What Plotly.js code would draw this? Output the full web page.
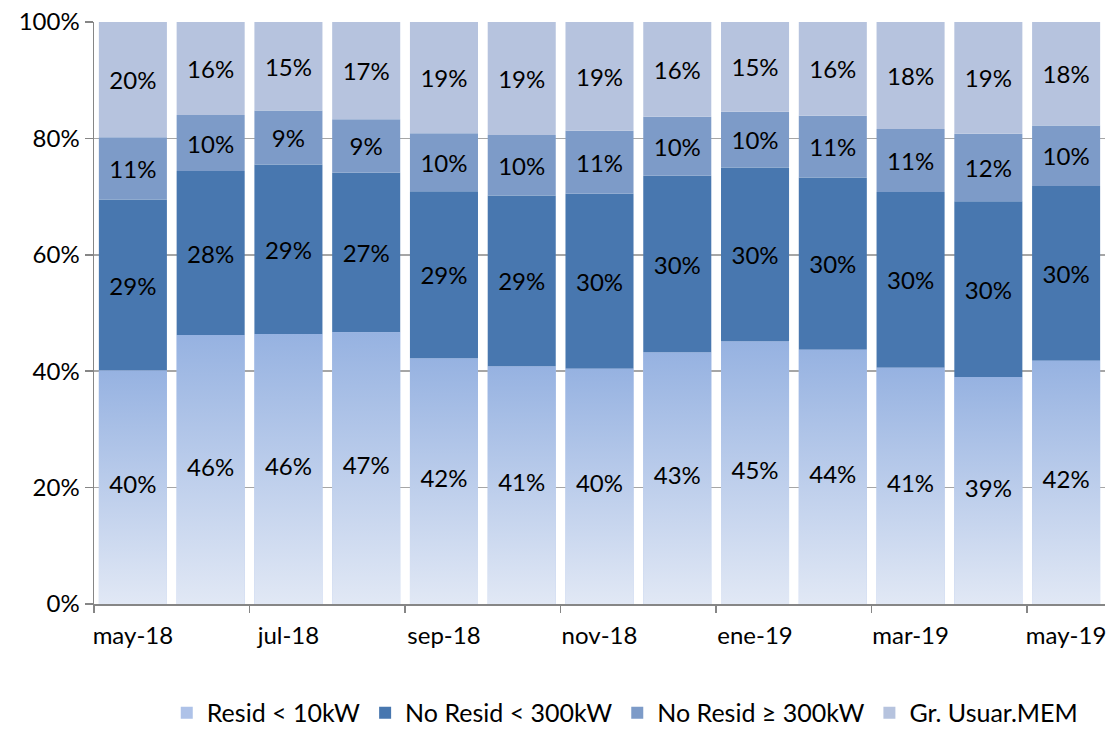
<!DOCTYPE html>
<html>
<head>
<meta charset="utf-8">
<script src="https://cdn.plot.ly/plotly-3.0.1.min.js"></script>
<style>html,body{margin:0;padding:0;background:#fff;}#chart{width:1111px;height:732px;}</style>
</head>
<body>
<div id="chart"></div>
<script>
// Months (categories)
const months = ["may-18","jun-18","jul-18","ago-18","sep-18","oct-18","nov-18","dic-18","ene-19","feb-19","mar-19","abr-19","may-19"];
// Series shares (%)
const residBajo   = [40.1, 46.2, 46.4, 46.7, 42.2, 40.8, 40.4, 43.2, 45.1, 43.7, 40.6, 39.0, 41.8]; // Resid < 10kW
const noResidBajo = [29.4, 28.2, 29.1, 27.4, 28.7, 29.4, 30.1, 30.4, 29.9, 29.6, 30.2, 30.2, 30.0]; // No Resid < 300kW
const noResidAlto = [10.7,  9.6,  9.3,  9.2, 10.0, 10.4, 10.8, 10.1,  9.6, 10.6, 10.8, 11.6, 10.4]; // No Resid >= 300kW
const grUsuarios  = [19.8, 16.0, 15.2, 16.7, 19.1, 19.4, 18.7, 16.3, 15.4, 16.1, 18.4, 19.2, 17.8]; // Gr. Usuar.MEM
const seriesNames = ["Resid < 10kW", "No Resid < 300kW", "No Resid \u2265 300kW", "Gr. Usuar.MEM"];
// Tick labels shown (every other month)
const tickLabels = ["may-18","jul-18","sep-18","nov-18","ene-19","mar-19","may-19"];

const FONT = "Lato, 'Open Sans', sans-serif";
const FS = 24;
const idx = months.map((m, i) => i);
const halfW = 0.4375;
const pct = a => a.map(v => Math.round(v) + "%");

const base1 = residBajo.slice();
const base2 = residBajo.map((v, i) => v + noResidBajo[i]);
const base3 = residBajo.map((v, i) => v + noResidBajo[i] + noResidAlto[i]);
const barSpecs = [
  {vals: residBajo,   base: null,  color: "#aec2e8", name: seriesNames[0], text: false},
  {vals: noResidBajo, base: base1, color: "#4877af", name: seriesNames[1], text: true},
  {vals: noResidAlto, base: base2, color: "#7d9bc8", name: seriesNames[2], text: true},
  {vals: grUsuarios,  base: base3, color: "#b6c3de", name: seriesNames[3], text: true}
];
const data = barSpecs.map(s => {
  const t = {
    type: "bar", x: idx, y: s.vals, name: s.name,
    marker: {color: s.color, line: {width: 0}},
    hoverinfo: "skip"
  };
  if (s.base) t.base = s.base;
  if (s.text) {
    t.text = pct(s.vals); t.textposition = "inside"; t.insidetextanchor = "middle";
    t.textangle = 0; t.constraintext = "none";
    t.textfont = {family: FONT, size: FS, color: "#000"};
  }
  return t;
});

// Gradient fill for the bottom series, one polygon per month (drawn above its bar)
idx.forEach(i => {
  const v = residBajo[i];
  data.push({
    type: "scatter", mode: "none", fill: "toself",
    x: [i - halfW, i + halfW, i + halfW, i - halfW, i - halfW],
    y: [0, 0, v, v, 0],
    fillcolor: "#b7c9ea",
    fillgradient: {type: "vertical", colorscale: [[0, "#e1e8f5"], [1, "#96b2e1"]]},
    showlegend: false, hoverinfo: "skip"
  });
});
// Labels for bottom series
data.push({
  type: "scatter", mode: "text", x: idx, y: residBajo.map(v => v / 2),
  text: pct(residBajo), textfont: {family: FONT, size: FS, color: "#000"},
  showlegend: false, hoverinfo: "skip"
});

const layout = {
  width: 1111, height: 732,
  margin: {l: 94, r: 6, t: 22, b: 128, autoexpand: false},
  paper_bgcolor: "#fff", plot_bgcolor: "#fff",
  barmode: "overlay", bargap: 0.125,
  font: {family: FONT, size: FS, color: "#000"},
  xaxis: {
    range: [-0.5, months.length - 0.5],
    tickmode: "array",
    tickvals: tickLabels.map((t, k) => 2 * k),
    ticktext: tickLabels,
    ticks: "", ticklabelstandoff: 10,
    minor: {
      tickmode: "array",
      tickvals: tickLabels.map((t, k) => 2 * k - 0.5),
      ticks: "outside", ticklen: 7, tickcolor: "#868686", tickwidth: 1.5, showgrid: false
    },
    showline: true, linecolor: "#868686", linewidth: 1.5,
    showgrid: false, zeroline: false, fixedrange: true,
    tickfont: {family: FONT, size: FS, color: "#000"}
  },
  yaxis: {
    range: [0, 100], dtick: 20, ticksuffix: "%",
    ticks: "outside", ticklen: 8, tickcolor: "#868686", tickwidth: 1.5,
    showline: true, linecolor: "#868686", linewidth: 1.5,
    showgrid: true, gridcolor: "#a6a6a6", gridwidth: 1.5,
    zeroline: false, fixedrange: true,
    tickfont: {family: FONT, size: FS, color: "#000"}
  },
  showlegend: true,
  legend: {
    orientation: "h", x: 0.978, xanchor: "right", y: -0.2268, yanchor: "bottom",
    font: {family: FONT, size: 25, color: "#000"},
    traceorder: "normal", itemwidth: 30
  }
};

Plotly.newPlot("chart", data, layout, {displayModeBar: false, staticPlot: true});
</script>
</body>
</html>
